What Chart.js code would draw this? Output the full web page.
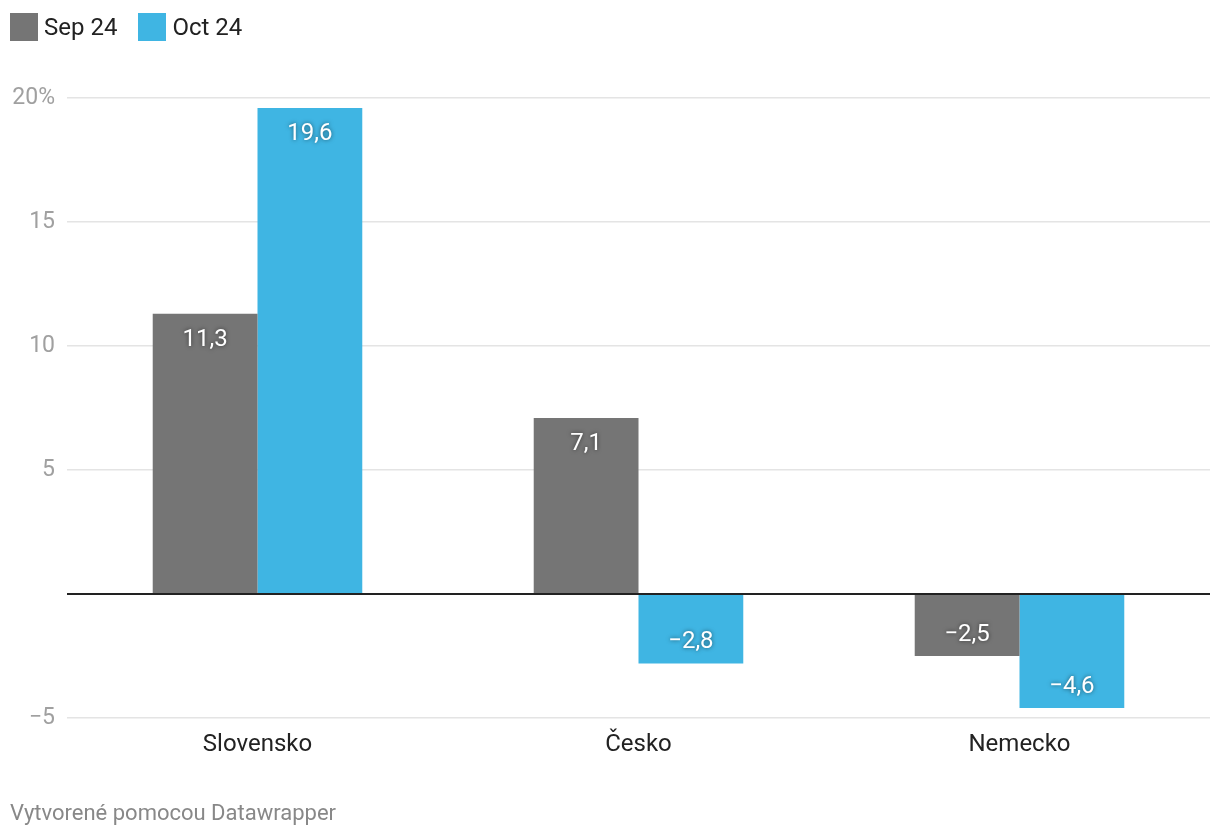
<!DOCTYPE html>
<html>
<head>
<meta charset="utf-8">
<script src="https://cdn.jsdelivr.net/npm/chart.js@4"></script>
<style>
  body { margin: 0; background: #fff; font-family: Roboto, "Noto Sans", sans-serif; }
  #wrap { position: relative; width: 1220px; height: 840px; }
  #myChart { position: absolute; left: 0; top: 0; }
  .legend { position: absolute; left: 10px; top: 12px; display: flex; font-size: 24px; color: #222; line-height: 30px; }
  .legend span.item { display: flex; align-items: center; margin-right: 21px; }
  .legend i { display: inline-block; width: 28px; height: 28px; margin-right: 6px; }
  .footer { position: absolute; left: 10px; top: 800px; font-size: 22px; color: #888; }
</style>
</head>
<body>
<div id="wrap">
  <canvas id="myChart" width="1220" height="840"></canvas>
  <div class="legend" id="legend"></div>
  <div class="footer">Vytvorené pomocou Datawrapper</div>
</div>
<script>
const countries = ["Slovensko", "Česko", "Nemecko"];
const seriesNames = ["Sep 24", "Oct 24"];
const sep24 = [11.3, 7.1, -2.5];
const oct24 = [19.6, -2.8, -4.6];
const colors = ["#757575", "#3fb5e3"];

const fmt = (v) => (v < 0 ? "\u2212" : "") + Math.abs(v).toFixed(1).replace(".", ",");

// html legend
const legend = document.getElementById("legend");
seriesNames.forEach((name, i) => {
  const item = document.createElement("span");
  item.className = "item";
  item.innerHTML = `<i style="background:${colors[i]}"></i>${name}`;
  legend.appendChild(item);
});

const barLabels = {
  id: "barLabels",
  afterDatasetsDraw(chart) {
    const c = chart.ctx;
    c.save();
    c.font = "24px Roboto";
    c.fillStyle = "#fff";
    c.textAlign = "center";
    c.textBaseline = "middle";
    c.shadowColor = "rgba(0,0,0,0.55)";
    c.shadowBlur = 4;
    chart.data.datasets.forEach((ds, di) => {
      chart.getDatasetMeta(di).data.forEach((bar, i) => {
        const v = ds.data[i];
        const y = v >= 0 ? bar.y + 26 : bar.y - 21;
        c.fillText(fmt(v), bar.x, y);
      });
    });
    c.restore();
  },
};

const ctx = document.getElementById("myChart");
const myChart = new Chart(ctx, {
  type: "bar",
  data: {
    labels: countries,
    datasets: [
      { label: seriesNames[0], data: sep24, backgroundColor: colors[0] },
      { label: seriesNames[1], data: oct24, backgroundColor: colors[1] },
    ],
  },
  options: {
    responsive: false,
    animation: false,
    devicePixelRatio: 1,
    categoryPercentage: 0.55,
    barPercentage: 1,
    layout: { padding: { left: 0, top: 98, right: 10, bottom: 0 } },
    plugins: { legend: { display: false }, tooltip: { enabled: false } },
    scales: {
      x: {
        grid: { display: false },
        border: { display: false },
        ticks: { color: "#222", font: { family: "Roboto", size: 24 }, padding: 5 },
        afterFit: (scale) => { scale.height = 122; },
      },
      y: {
        min: -5,
        max: 20,
        border: { display: false },
        grid: {
          drawTicks: false,
          color: (c) => (c.tick && c.tick.value === 0 ? "#222" : "#e4e4e4"),
          lineWidth: (c) => (c.tick && c.tick.value === 0 ? 2 : 1.5),
        },
        ticks: {
          stepSize: 5,
          padding: 12,
          color: "#a0a0a0",
          font: { family: "Roboto", size: 23 },
          callback: (v) => (v === 0 ? "" : v === 20 ? "20%" : (v < 0 ? "\u2212" : "") + Math.abs(v)),
        },
        afterFit: (scale) => { scale.width = 67; },
      },
    },
  },
  plugins: [barLabels],
});
</script>
</body>
</html>
